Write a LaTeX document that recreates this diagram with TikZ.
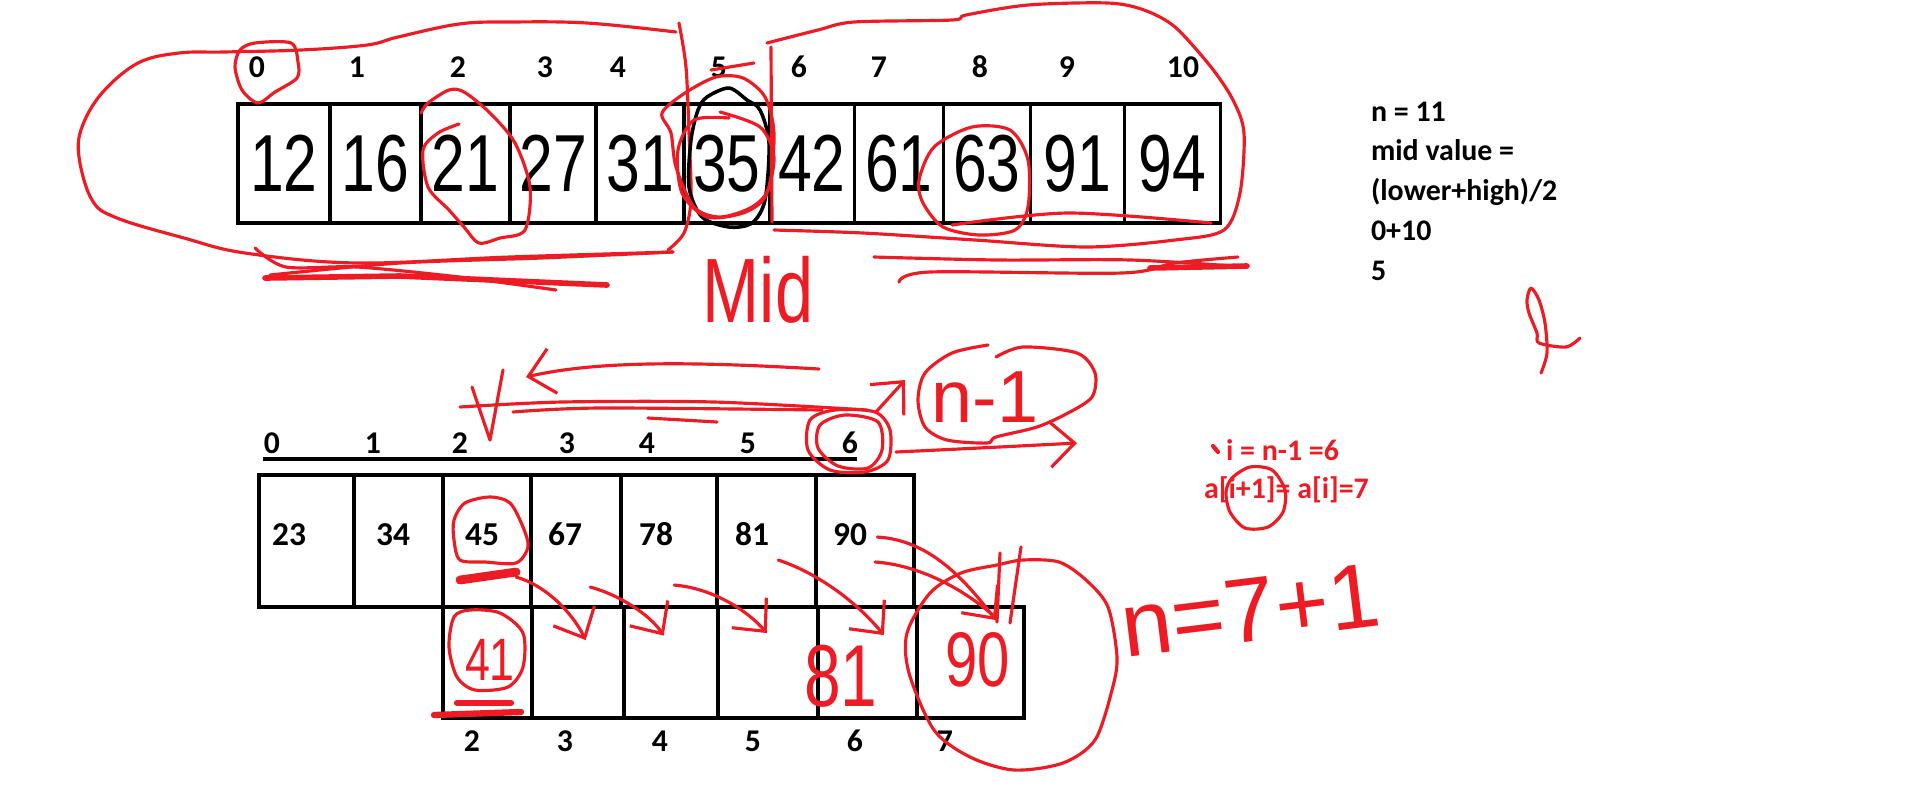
\documentclass[tikz,border=0pt]{standalone}
\usepackage{fontspec}
\setsansfont{Liberation Sans}
\newfontfamily\calib{Carlito}
\newfontfamily\hand{Liberation Sans}[FakeStretch=0.75]
\usetikzlibrary{arrows.meta, positioning}
\definecolor{paintred}{RGB}{237,28,36}

\begin{document}
\begin{tikzpicture}[x=0.01cm,y=-0.01cm,>={Straight Barb[length=7pt,width=13pt]},
                    semithick]
  \tikzstyle{topcell}=[draw, line width=1pt, inner sep=0pt, outer sep=0pt,
                       minimum height=1.19cm, font=\hand\fontsize{23}{23}\selectfont]
  \tikzstyle{cell}=[draw, line width=1.15pt, inner sep=0pt, outer sep=0pt]
  \tikzstyle{idx}=[font=\calib\bfseries\fontsize{9}{9}\selectfont, anchor=base, inner sep=0pt]
  \tikzstyle{val}=[font=\calib\bfseries\fontsize{9.5}{9.5}\selectfont, anchor=base, inner sep=0pt]
  \tikzstyle{note}=[font=\calib\bfseries\fontsize{8.5}{8.5}\selectfont, anchor=base west, inner sep=0pt]
  \tikzstyle{rednote}=[note, text=paintred]
  \tikzstyle{redhand}=[text=paintred, anchor=base, inner sep=0pt]
  \tikzstyle{scribble}=[draw=paintred, line width=0.9pt, line cap=round, line join=round]
  \tikzstyle{redarrow}=[scribble, ->]

  \useasboundingbox (0,0) rectangle (1914,802);

  % sorted array for the search
  \node[topcell, minimum width=0.92cm] (t0) at (284,163.5) {12};
  \node[topcell, minimum width=0.91cm, right=0pt of t0] (t1) {16};
  \node[topcell, minimum width=0.89cm, right=0pt of t1] (t2) {21};
  \node[topcell, minimum width=0.86cm, right=0pt of t2] (t3) {27};
  \node[topcell, minimum width=0.88cm, right=0pt of t3] (t4) {31};
  \node[topcell, minimum width=0.85cm, right=0pt of t4] (t5) {35};
  \node[topcell, minimum width=0.85cm, right=0pt of t5] (t6) {42};
  \node[topcell, minimum width=0.89cm, right=0pt of t6] (t7) {61};
  \node[topcell, minimum width=0.87cm, right=0pt of t7] (t8) {63};
  \node[topcell, minimum width=0.94cm, right=0pt of t8] (t9) {91};
  \node[topcell, minimum width=0.96cm, right=0pt of t9] (t10) {94};

  \node[idx] (ti0) at (257,77) {0};
  \node[idx] (ti1) at (357,77) {1};
  \node[idx] (ti2) at (458,77) {2};
  \node[idx] (ti3) at (545,77) {3};
  \node[idx] (ti4) at (618,77) {4};
  \node[idx] (ti5) at (719,77) {5};
  \node[idx] (ti6) at (799,77) {6};
  \node[idx] (ti7) at (879,77) {7};
  \node[idx] (ti8) at (980,77) {8};
  \node[idx] (ti9) at (1067,77) {9};
  \node[idx] (ti10) at (1183,77) {10};

  \node[note] (nn) at (1370,121) {n = 11};
  \node[note] (nmid) at (1370,160) {mid value =};
  \node[note] (nform) at (1370,200) {(lower+high)/2};
  \node[note] (nsum) at (1370,240) {0+10};
  \node[note] (nres) at (1370,280) {5};

  % marks on the search
  \draw[scribble] plot[smooth, tension=0.6] coordinates {(673,252) (510,257) (357,263)
    (245,253) (184,238) (117,218) (92,200) (79,157) (82,127) (102,93) (138,63) (179,53)
    (224,52) (301,50) (367,45) (398,37) (459,24) (510,22) (587,23) (676,32)};
  \draw[scribble] plot[smooth] coordinates {(679,23) (686,67) (689,133) (691,200) (684,233) (668,250)};
  \draw[scribble] plot[smooth] coordinates {(255,248) (286,267) (357,267) (459,277) (556,290)};
  \draw[scribble] plot[smooth] coordinates {(270,275) (400,263) (541,258) (673,252)};
  \draw[scribble, line width=1.6pt] (265,278) -- (400,276) -- (607,285);
  \draw[scribble] plot[smooth cycle] coordinates {(240,50) (255,43) (291,43) (298,62)
    (297,78) (275,92) (258,103) (242,90) (235,67)};
  \draw[scribble] plot[smooth] coordinates {(421,113) (428,103) (449,90) (464,92) (490,113)
    (515,143) (530,187) (525,230) (500,238) (479,243) (464,227) (449,210) (428,187)
    (423,150) (438,133) (459,124)};
  \draw[line width=1pt] plot[smooth cycle] coordinates {(707,97) (729,88) (747,100) (760,110)
    (769,143) (765,200) (752,223) (729,227) (702,217) (689,187) (691,140) (698,110)};
  \draw[scribble] plot[smooth cycle] coordinates {(662,113) (685,93) (716,77) (743,78)
    (765,97) (774,133) (769,187) (752,207) (720,217) (694,207) (676,167) (671,133)};
  \draw[scribble] plot[smooth] coordinates {(729,118) (694,120) (678,150) (682,193) (707,217)
    (743,213) (765,197) (774,157) (760,127) (720,112)};
  \draw[scribble] (711,70) -- (754,63);
  \draw[scribble] (771,47) -- (772,222);
  \draw[scribble] plot[smooth] coordinates {(767,43) (818,30) (854,22) (952,20) (966,15)
    (1028,5) (1108,3) (1144,10) (1175,27) (1211,67) (1233,100) (1244,133) (1240,193)
    (1224,230) (1175,240) (1086,247) (975,240) (863,233) (774,230)};
  \draw[scribble] plot[smooth] coordinates {(952,225) (1068,213) (1211,223)};
  \draw[scribble] plot[smooth] coordinates {(874,257) (997,260) (1131,260) (1247,267)};
  \draw[scribble] plot[smooth] coordinates {(899,282) (930,272) (1122,273) (1175,263) (1238,257)};
  \draw[scribble, line width=1.6pt] (1150,268) -- (1247,266);
  \draw[scribble] plot[smooth cycle] coordinates {(919,180) (934,147) (972,127) (1010,130)
    (1028,160) (1028,207) (1015,230) (979,235) (943,227) (923,203)};
  \node[redhand, font=\hand\fontsize{26}{26}\selectfont] (mid) at (758,322) {Mid};
  \draw[scribble] plot[smooth] coordinates {(1541,373) (1547,353) (1545,323) (1539,300)
    (1531,288) (1527,300) (1529,313) (1537,333) (1539,343) (1566,347) (1580,338)};

  % array before and after the insert
  \node[cell, minimum width=0.95cm, minimum height=1.32cm] (a0) at (306.5,541) {};
  \node[cell, minimum width=0.89cm, minimum height=1.32cm, right=0pt of a0] (a1) {};
  \node[cell, minimum width=0.88cm, minimum height=1.32cm, right=0pt of a1] (a2) {};
  \node[cell, minimum width=0.90cm, minimum height=1.32cm, right=0pt of a2] (a3) {};
  \node[cell, minimum width=0.96cm, minimum height=1.32cm, right=0pt of a3] (a4) {};
  \node[cell, minimum width=0.99cm, minimum height=1.32cm, right=0pt of a4] (a5) {};
  \node[cell, minimum width=0.98cm, minimum height=1.32cm, right=0pt of a5] (a6) {};

  \node[cell, minimum width=0.89cm, minimum height=1.11cm, below=0pt of a2] (s2) {};
  \node[cell, minimum width=0.92cm, minimum height=1.11cm, right=0pt of s2] (s3) {};
  \node[cell, minimum width=0.94cm, minimum height=1.11cm, right=0pt of s3] (s4) {};
  \node[cell, minimum width=1.00cm, minimum height=1.11cm, right=0pt of s4] (s5) {};
  \node[cell, minimum width=0.99cm, minimum height=1.11cm, right=0pt of s5] (s6) {};
  \node[cell, minimum width=1.07cm, minimum height=1.11cm, right=0pt of s6] (s7) {};

  \node[val] (v0) at (289,545) {23};
  \node[val] (v1) at (393,545) {34};
  \node[val] (v2) at (482,545) {45};
  \node[val] (v3) at (565,545) {67};
  \node[val] (v4) at (656,545) {78};
  \node[val] (v5) at (752,545) {81};
  \node[val] (v6) at (850,545) {90};

  \node[idx] (ai0) at (272,453) {0};
  \node[idx] (ai1) at (373,453) {1};
  \node[idx] (ai2) at (460,453) {2};
  \node[idx] (ai3) at (567,453) {3};
  \node[idx] (ai4) at (647,453) {4};
  \node[idx] (ai5) at (748,453) {5};
  \node[idx] (ai6) at (850,453) {6};
  \draw[line width=0.9pt] (263,459) -- (857,459);

  \node[idx] (si2) at (472,751) {2};
  \node[idx] (si3) at (565,751) {3};
  \node[idx] (si4) at (660,751) {4};
  \node[idx] (si5) at (753,751) {5};
  \node[idx] (si6) at (855,751) {6};
  \node[idx] (si7) at (945,751) {7};

  % marks on the insert
  \draw[redarrow, <-] (526,377) .. controls (600,360) and (700,362) .. (819,369);
  \draw[scribble] plot[smooth] coordinates {(460,407) (562,402) (714,402) (867,410)};
  \draw[scribble] plot[smooth] coordinates {(513,412) (600,408) (822,410)};
  \draw[scribble] (648,418) -- (717,422);
  \draw[scribble] (472,387) -- (490,440) -- (503,370);
  \draw[scribble] plot[smooth cycle] coordinates {(810,420) (835,410) (875,412) (890,430)
    (888,460) (865,472) (830,470) (808,450)};
  \draw[scribble] plot[smooth cycle] coordinates {(820,425) (845,415) (878,422) (882,450)
    (868,468) (838,466) (818,448)};
  \draw[scribble] plot[smooth] coordinates {(996,357) (1023,347) (1077,353) (1095,373)
    (1092,397) (1068,413) (1037,427) (996,437) (987,443) (947,440) (925,427) (918,400)
    (925,373) (952,353) (988,345)};
  \node[redhand, font=\sffamily\fontsize{21}{21}\selectfont] (nm1) at (985,422) {n-1};
  \draw[redarrow] (876,412) -- (905,380);
  \draw[redarrow] (896,452) .. controls (960,449) and (1020,446) .. (1077,443);

  \draw[scribble] plot[smooth cycle] coordinates {(454,520) (465,503) (490,497) (510,503)
    (523,527) (528,547) (516,563) (485,562) (460,560) (454,540)};
  \draw[scribble, line width=2.5pt] (460,580) -- (516,572);
  \draw[scribble] plot[smooth cycle] coordinates {(454,617) (470,610) (500,613) (523,633)
    (523,667) (508,687) (475,690) (457,677) (449,647)};
  \node[redhand, font=\hand\fontsize{17}{17}\selectfont] (r41) at (490,680) {41};
  \draw[scribble, line width=1.8pt] (434,715) -- (521,712);
  \draw[scribble, line width=1.8pt] (457,703) -- (511,703);

  \draw[redarrow] ([shift={(29,-30)}]a2.south) .. controls (545,585) and (572,612) .. ([shift={(8,-22.5)}]s3.center);
  \draw[redarrow] ([shift={(14,-20)}]a3.south) .. controls (620,595) and (650,615) .. ([shift={(-7,-27)}]s4.center);
  \draw[redarrow] ([shift={(5,-22)}]a4.south) .. controls (710,588) and (745,608) .. ([shift={(-1,-29.5)}]s5.center);
  \draw[redarrow] ([shift={(11.5,-47)}]a5.south) .. controls (815,572) and (855,600) .. ([shift={(16.5,-27.5)}]s6.center);
  \draw[redarrow] ([shift={(12,-70)}]a6.south) .. controls (930,540) and (965,580) .. ([shift={(25.5,-42.5)}]s7.center);
  \draw[scribble] (875,562) .. controls (920,565) and (965,590) .. (995,617);
  \draw[scribble] (1000,553) -- (997,622);
  \draw[scribble] (1021,547) -- (1010,623);

  \node[redhand, font=\hand\fontsize{25}{25}\selectfont] (r81) at (841,706) {81};
  \node[redhand, font=\hand\fontsize{22}{22}\selectfont] (r90) at (978,686) {90};
  \draw[scribble] plot[smooth cycle] coordinates {(1023,560) (1059,562) (1086,580) (1108,607)
    (1117,657) (1112,690) (1095,740) (1063,763) (1014,770) (970,757) (934,730) (909,673)
    (907,633) (930,593) (961,573) (997,565)};
  \node[text=paintred, inner sep=0pt, rotate=7, font=\sffamily\fontsize{26}{26}\selectfont] (neq) at (1250,610) {n=7+1};

  \node[rednote] (ri) at (1225,460) {i = n-1 =6};
  \node[rednote] (ra) at (1203,498) {a[i+1]= a[i]=7};
  \draw[scribble, line width=1.2pt] (1213,446) -- (1218,452);
  \draw[scribble] plot[smooth cycle] coordinates {(1232,478) (1250,467) (1272,470) (1285,490)
    (1283,512) (1268,527) (1245,528) (1230,512) (1226,492)};
\end{tikzpicture}
\end{document}
